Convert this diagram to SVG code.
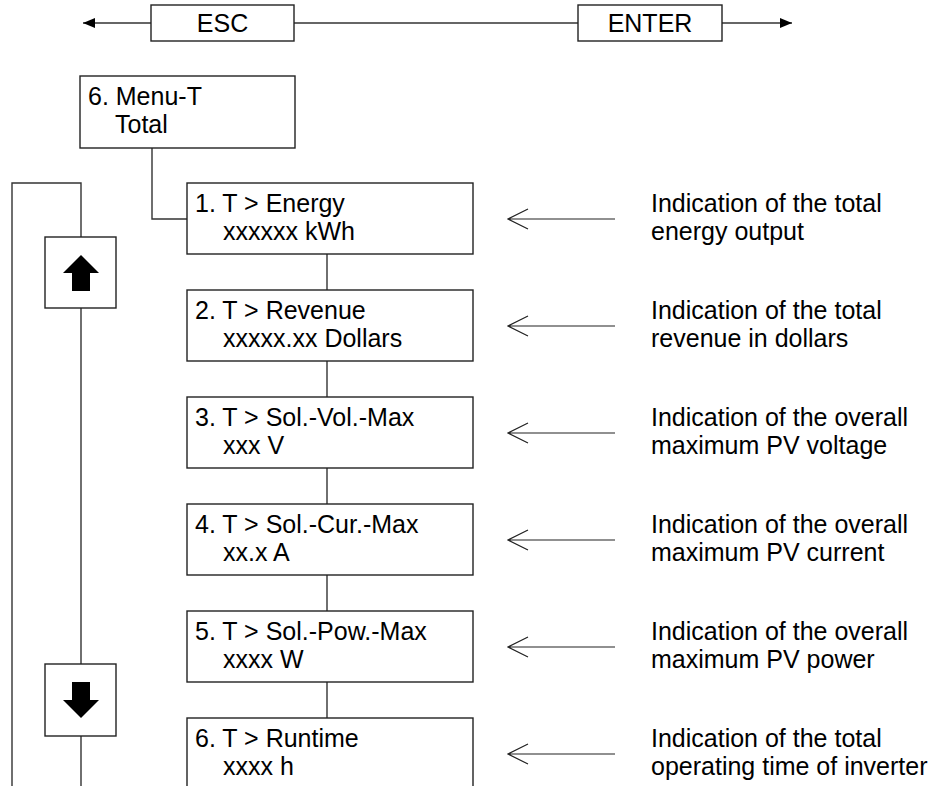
<svg xmlns="http://www.w3.org/2000/svg" width="929" height="786" viewBox="0 0 929 786">
<style>
text{font-family:"Liberation Sans",Arial,sans-serif;font-size:25px;fill:#000}
.box{fill:#fff;stroke:#222;stroke-width:1.4}
.ln{fill:none;stroke:#333;stroke-width:1.4}
.ptr{fill:none;stroke:#222;stroke-width:1.2}
.mid{text-anchor:middle}
</style>
<defs>
<marker id="tri" viewBox="0 0 12 10" refX="12" refY="5" markerWidth="12" markerHeight="10" markerUnits="userSpaceOnUse" orient="auto">
<path d="M0,0 L12,5 L0,10 z" fill="#000"/>
</marker>
</defs>
<g id="connectors">
<line class="ln" x1="151" y1="23" x2="83" y2="23" marker-end="url(#tri)"/>
<line class="ln" x1="294" y1="23" x2="578" y2="23"/>
<line class="ln" x1="722" y1="23" x2="792" y2="23" marker-end="url(#tri)"/>
<polyline class="ln" points="152,148 152,219 187,219"/>
<line class="ln" x1="327" y1="254" x2="327" y2="290"/>
<line class="ln" x1="327" y1="361" x2="327" y2="397"/>
<line class="ln" x1="327" y1="468" x2="327" y2="504"/>
<line class="ln" x1="327" y1="575" x2="327" y2="611"/>
<line class="ln" x1="327" y1="682" x2="327" y2="718"/>
<polyline class="ln" points="12,790 12,183 81,183 81,237"/>
<line class="ln" x1="81" y1="308" x2="81" y2="664"/>
<line class="ln" x1="81" y1="736" x2="81" y2="790"/>
</g>
<g id="esc"><rect class="box" x="151" y="5" width="143" height="36"/><text class="mid" x="222.5" y="32">ESC</text></g>
<g id="enter"><rect class="box" x="578" y="5" width="144" height="36"/><text class="mid" x="650" y="32">ENTER</text></g>
<g id="menu"><rect class="box" x="80" y="76" width="215" height="72"/><text x="88" y="105">6. Menu-T</text><text x="115" y="133">Total</text></g>
<g id="up"><rect class="box" x="45" y="237" width="71" height="71"/><polygon points="81,255 99,273 90,273 90,291 72,291 72,273 63,273" fill="#000"/></g>
<g id="down"><rect class="box" x="45" y="664" width="71" height="72"/><polygon points="72,682 90,682 90,700 99,700 81,718 63,700 72,700" fill="#000"/></g>
<g id="n1"><rect class="box" x="187" y="183" width="286" height="71"/><text x="195" y="212">1. T &gt; Energy</text><text x="223" y="240">xxxxxx kWh</text></g>
<g id="n2"><rect class="box" x="187" y="290" width="286" height="71"/><text x="195" y="319">2. T &gt; Revenue</text><text x="223" y="347">xxxxx.xx Dollars</text></g>
<g id="n3"><rect class="box" x="187" y="397" width="286" height="71"/><text x="195" y="426">3. T &gt; Sol.-Vol.-Max</text><text x="223" y="454">xxx V</text></g>
<g id="n4"><rect class="box" x="187" y="504" width="286" height="71"/><text x="195" y="533">4. T &gt; Sol.-Cur.-Max</text><text x="223" y="561">xx.x A</text></g>
<g id="n5"><rect class="box" x="187" y="611" width="286" height="71"/><text x="195" y="640">5. T &gt; Sol.-Pow.-Max</text><text x="223" y="668">xxxx W</text></g>
<g id="n6"><rect class="box" x="187" y="718" width="286" height="90"/><text x="195" y="747">6. T &gt; Runtime</text><text x="223" y="775">xxxx h</text></g>
<g id="notes">
<g id="d1"><path class="ptr" d="M615,219 H508 M528,209 L508,219 L528,229"/><text x="651" y="212">Indication of the total</text><text x="651" y="240">energy output</text></g>
<g id="d2"><path class="ptr" d="M615,326 H508 M528,316 L508,326 L528,336"/><text x="651" y="319">Indication of the total</text><text x="651" y="347">revenue in dollars</text></g>
<g id="d3"><path class="ptr" d="M615,433 H508 M528,423 L508,433 L528,443"/><text x="651" y="426">Indication of the overall</text><text x="651" y="454">maximum PV voltage</text></g>
<g id="d4"><path class="ptr" d="M615,540 H508 M528,530 L508,540 L528,550"/><text x="651" y="533">Indication of the overall</text><text x="651" y="561">maximum PV current</text></g>
<g id="d5"><path class="ptr" d="M615,647 H508 M528,637 L508,647 L528,657"/><text x="651" y="640">Indication of the overall</text><text x="651" y="668">maximum PV power</text></g>
<g id="d6"><path class="ptr" d="M615,754 H508 M528,744 L508,754 L528,764"/><text x="651" y="747">Indication of the total</text><text x="651" y="775">operating time of inverter</text></g>
</g>
</svg>
